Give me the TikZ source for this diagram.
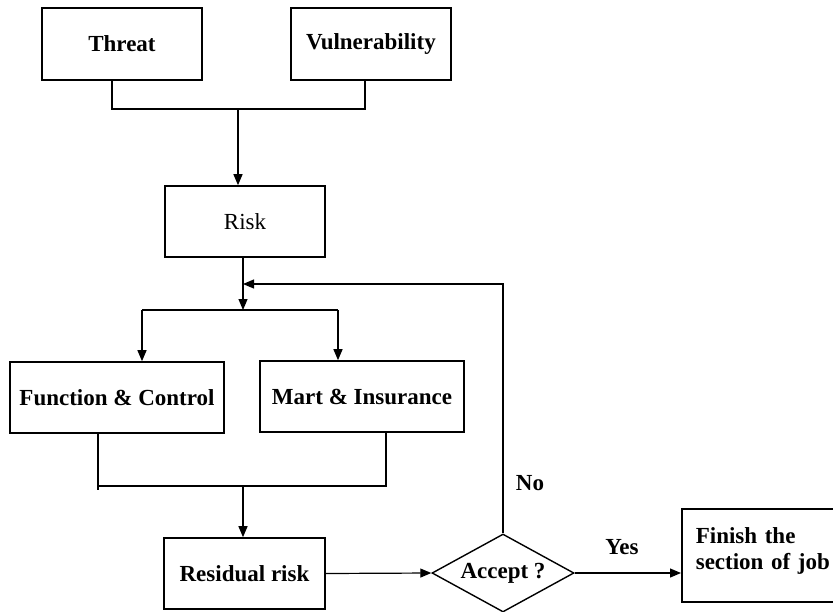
\documentclass[tikz,border=0pt]{standalone}
\usepackage{fontspec}
\setmainfont{Liberation Serif}
\usetikzlibrary{shapes.geometric,arrows.meta}
\begin{document}
\begin{tikzpicture}[x=1pt,y=-1pt,
  box/.style={draw,line width=1.6pt,rectangle,inner sep=0pt,
    font=\fontsize{23}{26}\selectfont\bfseries},
  plainbox/.style={box,font=\fontsize{23}{26}\selectfont},
  dec/.style={draw,line width=1.4pt,diamond,aspect=1.82,inner sep=2pt,
    minimum width=142pt,minimum height=78pt,
    font=\fontsize{23}{26}\selectfont\bfseries},
  link/.style={line width=1.2pt},
  arr/.style={link,-{Triangle[length=11pt,width=9pt]}},
  lbl/.style={font=\fontsize{23}{26}\selectfont\bfseries,inner sep=0pt}]
\useasboundingbox (0,0) rectangle (833,611);
\clip (0,0) rectangle (833,611);

% boxes
\node[box,minimum width=160pt,minimum height=72pt] (threat) at (122,44) {Threat};
\node[box,minimum width=160pt,minimum height=72pt] (vuln) at (371,44) {Vulnerability};
\node[plainbox,minimum width=160pt,minimum height=71pt] (risk) at (245,221.5) {Risk};
\node[box,minimum width=214pt,minimum height=71pt] (fc) at (117,397.5) {Function \& Control};
\node[box,minimum width=204pt,minimum height=71pt] (mart) at (362,396.5) {Mart \& Insurance};
\node[box,minimum width=161pt,minimum height=71pt] (resid) at (244.5,573.5) {Residual risk};
\node[dec] (accept) at (503,573) {Accept ?};
\node[box,minimum height=93pt,align=left,text depth=40pt,
  text width=160pt,inner xsep=14pt,anchor=west] (finish) at (681,555.5)
  {Finish the\\section of job};

% junction points
\coordinate (j1) at (238,109);
\coordinate (j2) at (243,310);
\coordinate (j2l) at (142,310);
\coordinate (j2r) at (338,310);
\coordinate (j3) at (243,284);
\coordinate (k) at (243,486);

% threat + vulnerability merge into risk
\draw[link] ([xshift=-10pt]threat.south) |- (j1) -| ([xshift=-6pt]vuln.south);
\draw[arr] (j1) -- (j1 |- risk.north);

% risk splits to the two treatments
\draw[arr] (risk.south -| j2) -- (j2);
\draw[link] (j2l) -- (j2r);
\draw[arr] (j2l) -- (j2l |- fc.north);
\draw[arr] (j2r) -- (j2r |- mart.north);

% treatments merge into residual risk
\draw[link] ([xshift=-19pt]fc.south) -- ++(0,56);
\draw[link] ([xshift=-19pt]fc.south |- k) -- (k) -| ([xshift=24pt]mart.south);
\draw[arr] (k) -- (k |- resid.north);

% decision
\draw[arr] (resid.east) -- (accept.west);
\draw[arr] (accept.east) -- (accept.east -| finish.west);
\draw[arr] (accept.north) |- (j3);

\node[lbl] (yes) at (622,547) {Yes};
\node[lbl] (no) at (530,483) {No};
\end{tikzpicture}
\end{document}
